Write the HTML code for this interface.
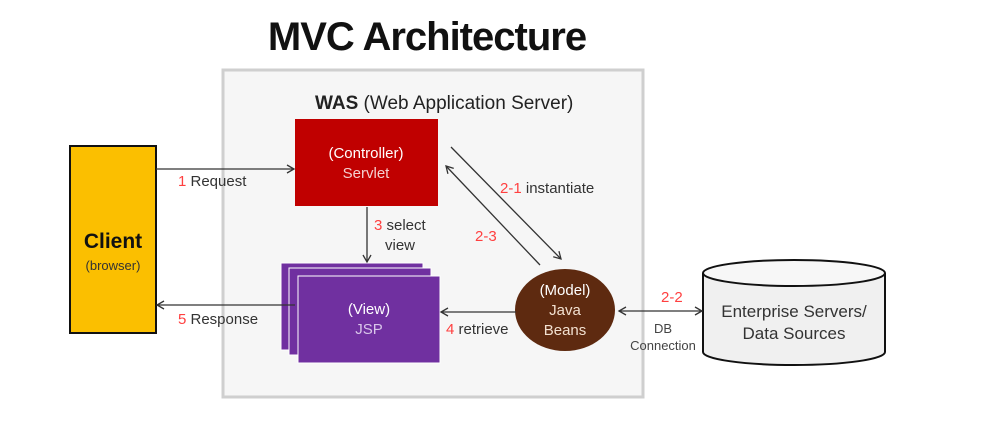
<!DOCTYPE html>
<html><head><style>
body{margin:0;background:#fff;width:1008px;height:417px;overflow:hidden;font-family:"Liberation Sans","Noto Sans CJK KR",sans-serif}
</style></head><body>
<svg width="1008" height="417" xmlns="http://www.w3.org/2000/svg" font-family="Liberation Sans, Noto Sans CJK KR, sans-serif">
<defs>
<marker id="a" markerWidth="10" markerHeight="10" refX="8" refY="5" orient="auto-start-reverse" markerUnits="userSpaceOnUse"><path d="M1,1 L8,5 L1,9" fill="none" stroke="#333" stroke-width="1.3"/></marker>
</defs>
<text x="427" y="50" text-anchor="middle" font-size="40" font-weight="bold" fill="#111" letter-spacing="-1">MVC Architecture</text>
<rect x="223" y="70" width="420" height="327" fill="#f6f6f6" stroke="#cfcfcf" stroke-width="3"/>
<text x="315" y="109" font-size="19" fill="#222"><tspan font-weight="bold">WAS</tspan> (Web Application Server)</text>
<rect x="70" y="146" width="86" height="187" fill="#fbbf00" stroke="#111" stroke-width="2"/>
<text x="113" y="248" text-anchor="middle" font-size="21" font-weight="bold" fill="#111">Client</text>
<text x="113" y="270" text-anchor="middle" font-size="13" fill="#333">(browser)</text>
<rect x="295" y="119" width="143" height="87" fill="#c00000"/>
<text x="366" y="158" text-anchor="middle" font-size="15" fill="#fff">(Controller)</text>
<text x="366" y="178" text-anchor="middle" font-size="15" fill="#f4d0d0">Servlet</text>
<rect x="281" y="263" width="142" height="87" fill="#7030a0" stroke="#fff" stroke-width="1"/>
<rect x="289" y="268" width="142" height="87" fill="#7030a0" stroke="#fff" stroke-width="1"/>
<rect x="298" y="276" width="142" height="87" fill="#7030a0" stroke="#fff" stroke-width="1"/>
<text x="369" y="314" text-anchor="middle" font-size="15" fill="#fff">(View)</text>
<text x="369" y="334" text-anchor="middle" font-size="15" fill="#d9c6ea">JSP</text>
<ellipse cx="565" cy="310" rx="50" ry="41" fill="#5e2a10"/>
<text x="565" y="295" text-anchor="middle" font-size="15" fill="#fff">(Model)</text>
<text x="565" y="315" text-anchor="middle" font-size="15" fill="#f2e0d0">Java</text>
<text x="565" y="335" text-anchor="middle" font-size="15" fill="#f2e0d0">Beans</text>
<path d="M703,273 L703,352 A91,13 0 0 0 885,352 L885,273" fill="#f0f0f0" stroke="#111" stroke-width="2"/>
<ellipse cx="794" cy="273" rx="91" ry="13" fill="#f7f7f7" stroke="#111" stroke-width="2"/>
<text x="794" y="317" text-anchor="middle" font-size="17" fill="#333">Enterprise Servers/</text>
<text x="794" y="339" text-anchor="middle" font-size="17" fill="#333">Data Sources</text>
<g stroke="#333" stroke-width="1.3" fill="none">
<line x1="156" y1="169" x2="294" y2="169" marker-end="url(#a)"/>
<line x1="295" y1="305" x2="157" y2="305" marker-end="url(#a)"/>
<line x1="367" y1="207" x2="367" y2="262" marker-end="url(#a)"/>
<line x1="451" y1="147" x2="561" y2="259" marker-end="url(#a)"/>
<line x1="540" y1="265" x2="446" y2="166" marker-end="url(#a)"/>
<line x1="516" y1="312" x2="441" y2="312" marker-end="url(#a)"/>
<line x1="619" y1="311" x2="702" y2="311" marker-start="url(#a)" marker-end="url(#a)"/>
</g>
<g font-size="15" fill="#333">
<text x="178" y="186"><tspan fill="#ff4040">1</tspan> Request</text>
<text x="178" y="324"><tspan fill="#ff4040">5</tspan> Response</text>
<text x="374" y="230"><tspan fill="#ff4040">3</tspan> select</text>
<text x="385" y="250">view</text>
<text x="500" y="193"><tspan fill="#ff4040">2-1</tspan> instantiate</text>
<text x="475" y="241" fill="#ff4040">2-3</text>
<text x="446" y="334"><tspan fill="#ff4040">4</tspan> retrieve</text>
<text x="661" y="302" fill="#ff4040">2-2</text>
</g>
<text x="663" y="333" text-anchor="middle" font-size="13" fill="#444">DB</text>
<text x="663" y="350" text-anchor="middle" font-size="13" fill="#444">Connection</text>
</svg>
</body></html>
